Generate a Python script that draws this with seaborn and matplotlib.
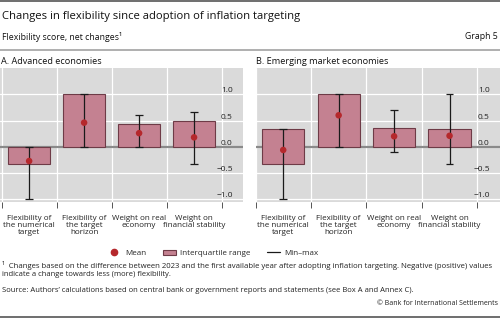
import matplotlib
matplotlib.use("Agg")
import matplotlib.pyplot as plt
import seaborn as sns
import numpy as np
from matplotlib.lines import Line2D
from matplotlib.patches import Patch

categories = ["Flexibility of\nthe numerical\ntarget", "Flexibility of\nthe target\nhorizon",
              "Weight on real\neconomy", "Weight on\nfinancial stability"]

# Panel A: Advanced economies
adv_q1 = [-0.33, 0.0, 0.0, 0.0]
adv_q3 = [0.0, 1.0, 0.44, 0.5]
adv_mean = [-0.27, 0.46, 0.26, 0.18]
adv_min = [-1.0, 0.0, 0.0, -0.33]
adv_max = [0.0, 1.0, 0.6, 0.67]

# Panel B: Emerging market economies
eme_q1 = [-0.33, 0.0, 0.0, 0.0]
eme_q3 = [0.33, 1.0, 0.35, 0.33]
eme_mean = [-0.06, 0.6, 0.2, 0.21]
eme_min = [-1.0, 0.0, -0.1, -0.33]
eme_max = [0.33, 1.0, 0.7, 1.0]

yticks = [-1.0, -0.5, 0.0, 0.5, 1.0]
ytick_labels = ["−1.0", "−0.5", "0.0", "0.5", "1.0"]

sns.set_theme(style="darkgrid")
plt.rcParams["font.family"] = ["Open Sans", "DejaVu Sans"]

BAR = "#c48191"
EDGE = "#6e3b47"
RED = "#b5282c"
BG = "#dadada"

W, H = 500, 322
fig = plt.figure(figsize=(W / 100, H / 100), dpi=100)
fig.patch.set_facecolor("white")


def px_axes(x0, y0, x1, y1):
    return fig.add_axes([x0 / W, 1 - y1 / H, (x1 - x0) / W, (y1 - y0) / H])


def draw_panel(ax, q1, q3, mean, mn, mx, xlim):
    ax.set_facecolor(BG)
    x = np.arange(len(categories))
    ax.axhline(0, color="#8a8a8a", lw=1.6, zorder=1)
    ax.bar(x, np.array(q3) - np.array(q1), bottom=q1, width=0.76,
           color=BAR, edgecolor=EDGE, linewidth=0.8, zorder=2)
    ax.vlines(x, mn, mx, color="#1a1a1a", lw=0.9, zorder=3)
    ax.hlines(mn, x - 0.07, x + 0.07, color="#1a1a1a", lw=0.9, zorder=3)
    ax.hlines(mx, x - 0.07, x + 0.07, color="#1a1a1a", lw=0.9, zorder=3)
    sns.scatterplot(x=x, y=mean, ax=ax, color=RED, s=22, edgecolor="none",
                    zorder=4, legend=False)
    ax.set_xlim(*xlim)
    ax.set_ylim(-1.05, 1.5)
    ax.set_xticks(x)
    ax.set_xticklabels(categories, fontsize=5.8, linespacing=1.1, color="#222222")
    ax.set_xticks(np.arange(-0.5, 4.0, 1.0), minor=True)
    ax.tick_params(axis="x", which="major", length=0, pad=9)
    ax.tick_params(axis="x", which="minor", length=4, width=0.7,
                   color="#555555", direction="out", bottom=True)
    # y tick labels drawn inside the plot, at the right edge
    ax.spines["left"].set_position(("axes", 1.0))
    ax.yaxis.set_ticks_position("left")
    ax.set_yticks(yticks, ytick_labels, ha="right", va="bottom")
    ax.tick_params(axis="y", which="both", left=False, right=False,
                   labelleft=True, labelright=False, pad=1.5,
                   labelsize=6.0, labelcolor="#222222")
    ax.grid(False)
    ax.grid(axis="y", which="major", color="white", lw=0.9)
    ax.grid(axis="x", which="minor", color="white", lw=0.9)
    ax.set_axisbelow(True)
    for s in ax.spines.values():
        s.set_visible(False)
    ax.set_xlabel("")
    ax.set_ylabel("")


axA = px_axes(0, 68, 243, 202)
draw_panel(axA, adv_q1, adv_q3, adv_mean, adv_min, adv_max, (-0.53, 3.89))
axB = px_axes(255.5, 68, 500, 202)
draw_panel(axB, eme_q1, eme_q3, eme_mean, eme_min, eme_max, (-0.5, 3.91))

# Header texts and rules
fig.add_artist(Line2D([0, 1], [1 - 0.8 / H] * 2, color="#555555", lw=1.2))
fig.text(2 / W, 1 - 16 / H, "Changes in flexibility since adoption of inflation targeting",
         fontsize=8.1, va="center", ha="left", color="#111111")
fig.text(2 / W, 1 - 36.5 / H, "Flexibility score, net changes¹", fontsize=6.3,
         va="center", ha="left", color="#111111")
fig.text(498 / W, 1 - 36.5 / H, "Graph 5", fontsize=6.3, va="center", ha="right",
         color="#111111")
fig.add_artist(Line2D([0, 1], [1 - 49.5 / H] * 2, color="#9a9a9a", lw=1.1))
fig.text(1 / W, 1 - 61 / H, "A. Advanced economies", fontsize=6.6, va="center",
         ha="left", color="#111111")
fig.text(256 / W, 1 - 61 / H, "B. Emerging market economies", fontsize=6.6,
         va="center", ha="left", color="#111111")

# Legend
handles = [
    Line2D([], [], marker="o", color=RED, linestyle="none", markersize=4.5),
    Patch(facecolor=BAR, edgecolor=EDGE, linewidth=0.8),
    Line2D([], [], color="#1a1a1a", lw=0.9),
]
fig.legend(handles, ["Mean", "Interquartile range", "Min–max"],
           loc="center", bbox_to_anchor=(213 / W, 1 - 253.5 / H), ncol=3,
           frameon=False, fontsize=5.8, columnspacing=2.1, handlelength=1.6,
           handletextpad=0.5, borderaxespad=0)

# Footnotes
fig.text(2 / W, 1 - 265 / H,
         "¹  Changes based on the difference between 2023 and the first available year after adopting inflation targeting. Negative (positive) values",
         fontsize=5.6, va="center", ha="left", color="#222222")
fig.text(2 / W, 1 - 274.5 / H, "indicate a change towards less (more) flexibility.",
         fontsize=5.5, va="center", ha="left", color="#222222")
fig.text(2 / W, 1 - 290 / H,
         "Source: Authors’ calculations based on central bank or government reports and statements (see Box A and Annex C).",
         fontsize=5.5, va="center", ha="left", color="#222222")
fig.text(498 / W, 1 - 303.5 / H, "© Bank for International Settlements",
         fontsize=5.0, va="center", ha="right", color="#222222")
fig.add_artist(Line2D([0, 1], [1 - 317 / H] * 2, color="#555555", lw=1.2))

fig.savefig("out.png", dpi=100)
